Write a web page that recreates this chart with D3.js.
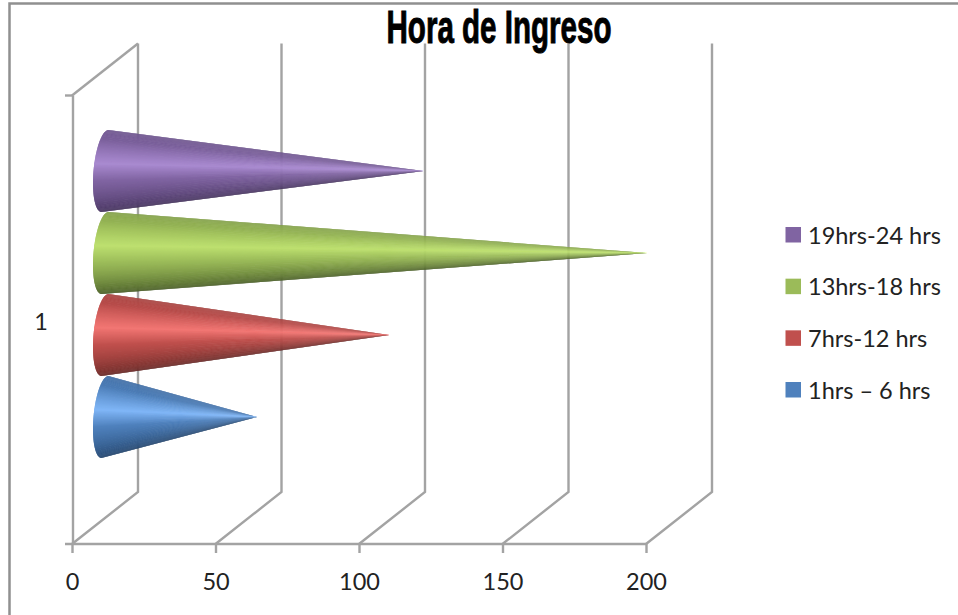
<!DOCTYPE html>
<html>
<head>
<meta charset="utf-8">
<script src="https://cdn.jsdelivr.net/npm/d3@7"></script>
<style>
  html, body { margin: 0; padding: 0; background: #fff; }
  svg { display: block; }
  text { font-family: Lato, "Open Sans", sans-serif; fill: #222; }
</style>
</head>
<body>
<svg id="chart" width="958" height="615"></svg>
<script>
// Admissions by time band
const seriesNames = ["1hrs – 6 hrs", "7hrs-12 hrs", "13hrs-18 hrs", "19hrs-24 hrs"];
const seriesValues = [53, 99, 189, 111];
const seriesColors = ["#4f81bd", "#c0504d", "#9bbb59", "#8064a2"];
const highlightColors = ["#80b6f7", "#f27673", "#bde06f", "#a98ad0"];
const shadeColors = ["#1f3f66", "#5e2422", "#3f5220", "#3e2d55"];
const xTicks = [0, 50, 100, 150, 200];
const categories = ["1"];
const chartTitle = "Hora de Ingreso";

const svg = d3.select("#chart");
const gridColor = "#a3a3a3";
const labelSize = 23.5;

// Front plane of the box and its depth offset
const x = d3.scaleLinear().domain([0, 200]).range([72, 646]);
const y = d3.scaleBand().domain(categories).range([95.5, 544]);
const depth = { dx: 66, dy: -52 };
const plotBottom = y.range()[1], plotTop = y.range()[0];

// Outer frame
svg.append("path")
  .attr("d", "M9.5,615V3.5H958")
  .attr("fill", "none").attr("stroke", "#909090").attr("stroke-width", 2.5);

// Floor diagonals and back wall lines
const walls = svg.append("g").attr("fill", "none").attr("stroke", gridColor).attr("stroke-width", 2.4);
xTicks.forEach(t => {
  const fx = x(t);
  walls.append("path").attr("d",
    `M${fx},${plotBottom}L${fx + depth.dx},${plotBottom + depth.dy}V${plotTop + depth.dy}`);
});
walls.append("path").attr("d",
  `M${x(0)},${plotTop}L${x(0) + depth.dx},${plotTop + depth.dy}`);
walls.append("path").attr("d", `M${x(0) + 1},${plotTop}V${plotBottom}`);
walls.append("path").attr("d", `M65,${plotTop}H${x(0) + 1}`);

// Value axis
const axis = svg.append("g").attr("transform", `translate(0,${plotBottom})`)
  .call(d3.axisBottom(x).tickValues(xTicks).tickSize(9).tickPadding(23));
axis.select(".domain").remove();
axis.selectAll("line").attr("stroke", gridColor).attr("stroke-width", 2.4);
axis.selectAll("text").attr("font-size", labelSize).attr("fill", "#222")
  .attr("font-family", "Lato, 'Open Sans', sans-serif").attr("dy", "0.6em");
svg.append("path").attr("d", `M65,${plotBottom}H${x(200)}`)
  .attr("stroke", gridColor).attr("stroke-width", 2.4).attr("fill", "none");

// Category label
svg.append("text").attr("x", 41).attr("y", y(categories[0]) + y.bandwidth() / 2 + 10)
  .attr("text-anchor", "middle").attr("font-size", labelSize).text(categories[0]);

// Cones stacked along the category band, mid-depth in the box
const band = d3.scaleBand().domain(d3.range(seriesValues.length))
  .range([458, 130]).paddingInner(0).paddingOuter(0);
const baseRx = 11.5, tilt = 3.5;
const highlightAt = 0.44;
const sliceCount = 120;

// Each slice reaches one step toward the highlight, so neighbours overlap
// and the highlight ends up painted last, keeping the facets seamless.
function coneSlices(i) {
  const ry = band.bandwidth() / 2;
  const cy = band(i) + ry;
  const cx = x(0) + depth.dx / 2;
  const tip = [x(seriesValues[i]) + depth.dx / 2, cy];
  const rim = k => {
    const a = Math.PI * k / sliceCount;
    return [cx - baseRx * Math.sin(a) + tilt * Math.cos(a), cy - ry * Math.cos(a)];
  };
  const slices = d3.range(sliceCount).map(k => {
    const t = (k + 0.5) / sliceCount;
    const from = t < highlightAt ? k : k - 1;
    const to = t < highlightAt ? k + 2 : k + 1;
    return { p0: rim(from), p1: rim(to), tip, t };
  });
  return slices.sort((a, b) => Math.abs(b.t - highlightAt) - Math.abs(a.t - highlightAt));
}

const coneGroup = svg.append("g");
[3, 2, 1, 0].forEach(i => {
  const mix = d3.interpolateRgb(seriesColors[i], shadeColors[i]);
  const shade = d3.scaleLinear()
    .domain([0, 0.22, highlightAt, 0.58, 0.8, 1])
    .range([mix(0.3), mix(0.08), highlightColors[i], seriesColors[i], mix(0.55), shadeColors[i]]);
  coneGroup.append("g").selectAll("path").data(coneSlices(i)).join("path")
    .attr("d", d => `M${d.tip}L${d.p0}L${d.p1}Z`)
    .attr("fill", d => shade(d.t));
});

// Legend, top entry is the last series
const legendY = d3.scalePoint().domain(d3.range(seriesNames.length).reverse()).range([235, 390]);
const legend = svg.append("g").selectAll("g").data(d3.range(seriesNames.length)).join("g")
  .attr("transform", d => `translate(785.5,${legendY(d)})`);
legend.append("rect").attr("x", 0).attr("y", -8).attr("width", 15.5).attr("height", 15.5)
  .attr("fill", d => seriesColors[d]);
legend.append("text").attr("x", 22.5).attr("y", 8.5).attr("font-size", labelSize)
  .text(d => seriesNames[d]);

// Title
svg.append("text").attr("x", 386.5).attr("y", 43)
  .attr("textLength", 225).attr("lengthAdjust", "spacingAndGlyphs")
  .style("font-family", "'Liberation Sans', Arial, sans-serif")
  .attr("font-weight", "bold").attr("font-size", 47).style("fill", "#000")
  .attr("stroke", "#000").attr("stroke-width", 1)
  .text(chartTitle);
</script>
</body>
</html>
